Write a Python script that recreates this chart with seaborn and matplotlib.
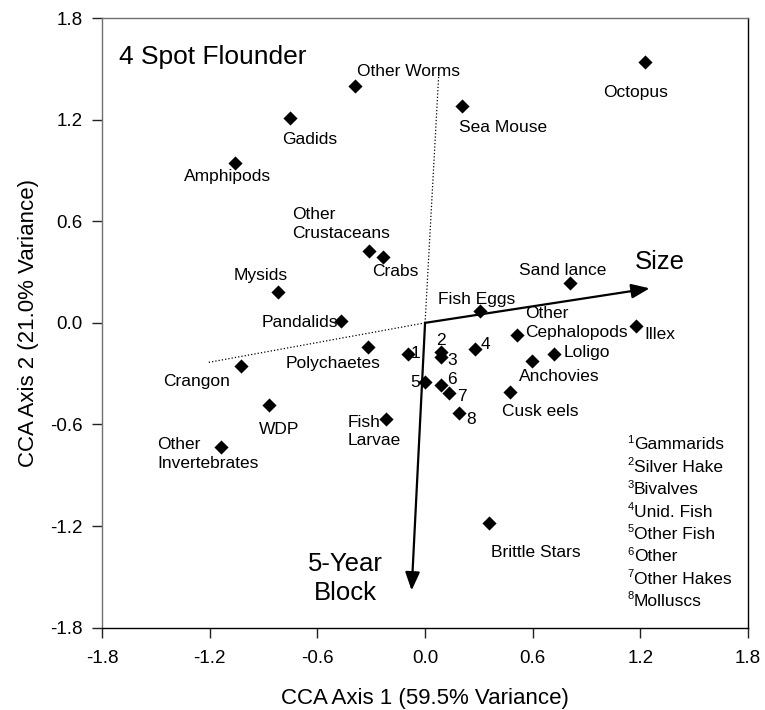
import seaborn as sns
import matplotlib.pyplot as plt
import pandas as pd

# CCA scores for the prey categories
prey = ["Octopus", "Sea Mouse", "Other Worms", "Gadids", "Amphipods",
        "Other Crustaceans", "Crabs", "Mysids", "Pandalids", "Polychaetes",
        "Crangon", "WDP", "Other Invertebrates", "Fish Larvae",
        "Gammarids", "Silver Hake", "Bivalves", "Unid. Fish", "Other Fish",
        "Other", "Other Hakes", "Molluscs",
        "Fish Eggs", "Sand lance", "Other Cephalopods", "Illex", "Loligo",
        "Anchovies", "Cusk eels", "Brittle Stars"]
axis1 = [1.225, 0.206, -0.389, -0.751, -1.061,
         -0.310, -0.232, -0.820, -0.467, -0.319,
         -1.027, -0.872, -1.138, -0.217,
         -0.097, 0.091, 0.091, 0.280, 0.000,
         0.091, 0.135, 0.187,
         0.306, 0.806, 0.512, 1.175, 0.721,
         0.597, 0.471, 0.358]
axis2 = [1.538, 1.282, 1.400, 1.207, 0.943,
         0.426, 0.390, 0.184, 0.011, -0.145,
         -0.253, -0.483, -0.731, -0.568,
         -0.182, -0.170, -0.204, -0.157, -0.349,
         -0.365, -0.416, -0.534,
         0.070, 0.235, -0.070, -0.017, -0.184,
         -0.224, -0.408, -1.180]

# numbered prey (listed in the key)
numbered = ["Gammarids", "Silver Hake", "Bivalves", "Unid. Fish",
            "Other Fish", "Other", "Other Hakes", "Molluscs"]

# environmental vectors
vectors = ["Size", "5-Year\nBlock"]
vec_x = [1.251, -0.075]
vec_y = [0.204, -1.580]

ticks = [-1.8, -1.2, -0.6, 0.0, 0.6, 1.2, 1.8]

df = pd.DataFrame({"prey": prey, "CCA1": axis1, "CCA2": axis2})

# label placement (x, y, ha)
label_pos = {
    "Octopus": (1.173, 1.358, "center"),
    "Sea Mouse": (0.437, 1.152, "center"),
    "Other Worms": (-0.093, 1.482, "center"),
    "Gadids": (-0.645, 1.083, "center"),
    "Amphipods": (-1.100, 0.867, "center"),
    "Other Crustaceans": (-0.740, 0.583, "left"),
    "Crabs": (-0.168, 0.302, "center"),
    "Mysids": (-0.914, 0.282, "center"),
    "Pandalids": (-0.697, 0.000, "center"),
    "Polychaetes": (-0.513, -0.239, "center"),
    "Crangon": (-1.274, -0.348, "center"),
    "WDP": (-0.814, -0.627, "center"),
    "Other Invertebrates": (-1.493, -0.774, "left"),
    "Fish Larvae": (-0.430, -0.642, "left"),
    "Gammarids": (-0.052, -0.182, "center"),
    "Silver Hake": (0.086, -0.107, "center"),
    "Bivalves": (0.152, -0.220, "center"),
    "Unid. Fish": (0.339, -0.127, "center"),
    "Other Fish": (-0.053, -0.351, "center"),
    "Other": (0.152, -0.332, "center"),
    "Other Hakes": (0.203, -0.432, "center"),
    "Molluscs": (0.258, -0.570, "center"),
    "Fish Eggs": (0.286, 0.139, "center"),
    "Sand lance": (0.764, 0.312, "center"),
    "Other Cephalopods": (0.556, 0.000, "left"),
    "Illex": (1.224, -0.066, "left"),
    "Loligo": (0.771, -0.174, "left"),
    "Anchovies": (0.745, -0.318, "center"),
    "Cusk eels": (0.641, -0.525, "center"),
    "Brittle Stars": (0.619, -1.357, "center"),
}
two_line = {"Other Crustaceans": "Other\nCrustaceans",
            "Other Invertebrates": "Other\nInvertebrates",
            "Fish Larvae": "Fish\nLarvae",
            "Other Cephalopods": "Other\nCephalopods"}

sns.set_style("ticks")
plt.rcParams["font.family"] = ["Liberation Sans", "DejaVu Sans"]
plt.rcParams["axes.unicode_minus"] = False
plt.rcParams["text.color"] = "black"
plt.rcParams["axes.labelcolor"] = "black"
plt.rcParams["xtick.color"] = "black"
plt.rcParams["ytick.color"] = "black"

fig, ax = plt.subplots(figsize=(7.65, 7.10), dpi=100)
fig.subplots_adjust(left=0.1333, right=0.978, top=0.9746, bottom=0.1159)

# passive (dotted) extensions of the vectors
ax.plot([0, -1.205], [0, -0.233], ls=":", color="black", lw=0.9)
ax.plot([0, 0.076], [0, 1.463], ls=":", color="black", lw=0.9)

sns.scatterplot(data=df, x="CCA1", y="CCA2", marker="D", color="black",
                s=52, linewidth=0, ax=ax, zorder=3)

for name in prey:
    x, y, ha = label_pos[name]
    if name in numbered:
        txt = str(numbered.index(name) + 1)
    else:
        txt = two_line.get(name, name)
    ax.text(x, y, txt, ha=ha, va="center", fontsize=12.5, linespacing=1.3)

# vectors
vec_lab = {"Size": (1.31, 0.36), "5-Year\nBlock": (-0.443, -1.51)}
for name, vx, vy in zip(vectors, vec_x, vec_y):
    ax.annotate("", xy=(vx, vy), xytext=(0, 0),
                arrowprops=dict(arrowstyle="-|>,head_length=0.55,head_width=0.22",
                                color="black", lw=1.6, shrinkA=0, shrinkB=0,
                                mutation_scale=20))
    lx, ly = vec_lab[name]
    ax.text(lx, ly, name, ha="center", va="center", fontsize=18.5,
            linespacing=1.25)

ax.text(-1.705, 1.571, "4 Spot Flounder", ha="left", va="center", fontsize=19)

# key for the numbered points
for i, name in enumerate(numbered):
    yy = -0.721 - i * 0.132
    ax.text(1.164, yy, name, ha="left", va="center", fontsize=12.5)
    ax.text(1.161, yy + 0.03, str(i + 1), ha="right", va="center", fontsize=8)

ax.set_xlim(-1.8, 1.8)
ax.set_ylim(-1.8, 1.8)
ax.set_xticks(ticks)
ax.set_yticks(ticks)
ax.set_xticklabels([f"{t:.1f}" for t in ticks])
ax.set_yticklabels([f"{t:.1f}" for t in ticks])
ax.tick_params(direction="out", length=7, width=1, labelsize=13.5,
               color="#222222", labelcolor="black")
ax.tick_params(axis="x", pad=9)
ax.tick_params(axis="y", pad=7)

ax.set_xlabel("CCA Axis 1 (59.5% Variance)", fontsize=16, labelpad=15)
ax.set_ylabel("CCA Axis 2 (21.0% Variance)", fontsize=16, labelpad=8)

for side in ["left", "top"]:
    ax.spines[side].set_color("#707070")
for side in ["right", "bottom"]:
    ax.spines[side].set_color("black")
for side in ax.spines:
    ax.spines[side].set_visible(True)
    ax.spines[side].set_linewidth(1)

plt.savefig("out.png", dpi=100)
